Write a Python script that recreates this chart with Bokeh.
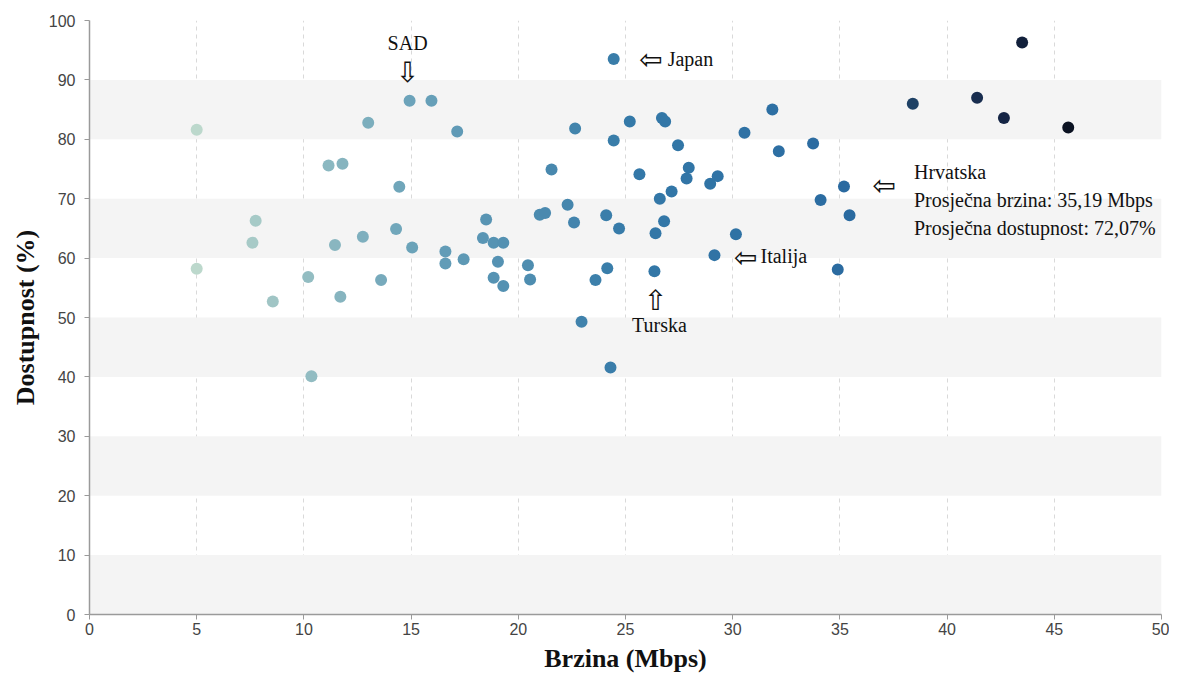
import numpy as np
from bokeh.plotting import figure
from bokeh.models import Range1d, BoxAnnotation, ColumnDataSource, FixedTicker
from bokeh.transform import linear_cmap
from bokeh.core.properties import value
from bokeh.embed import file_html
from bokeh.resources import INLINE

# ---- data ----
speed = [5.0, 5.0, 7.75, 7.6, 8.55, 10.2, 10.35, 11.15, 11.8, 11.45, 11.7, 12.75, 13.0,
         13.6, 14.3, 14.45, 14.93, 15.05, 15.95, 16.6, 16.6, 17.15, 17.45, 18.35, 18.5,
         18.85, 19.3, 19.05, 18.85, 19.3, 20.45, 20.55, 21.0, 21.25, 21.55, 22.3, 22.6,
         22.65, 22.95, 23.6, 24.1, 24.15, 24.3, 24.45, 24.45, 24.7, 25.2, 25.65, 26.35,
         26.4, 26.6, 26.7, 26.85, 26.8, 27.15, 27.45, 27.85, 27.95, 28.95, 29.3, 29.15,
         30.15, 30.55, 31.85, 32.15, 33.75, 34.1, 35.19, 35.45, 34.9, 38.4, 41.4, 42.65,
         43.5, 45.65]
availability = [81.6, 58.2, 66.3, 62.6, 52.7, 56.8, 40.1, 75.6, 75.9, 62.2, 53.5, 63.6, 82.8,
                56.3, 64.9, 72.0, 86.5, 61.8, 86.5, 61.1, 59.1, 81.3, 59.8, 63.4, 66.5,
                62.6, 62.6, 59.4, 56.7, 55.3, 58.8, 56.4, 67.3, 67.6, 74.9, 69.0, 66.0,
                81.8, 49.3, 56.3, 67.2, 58.3, 41.6, 79.8, 93.5, 65.0, 83.0, 74.1, 57.8,
                64.2, 70.0, 83.6, 83.0, 66.2, 71.2, 79.0, 73.4, 75.2, 72.5, 73.8, 60.5,
                64.0, 81.1, 85.0, 78.0, 79.3, 69.8, 72.07, 67.2, 58.1, 86.0, 87.0, 83.6,
                96.3, 82.0]

# labelled countries (speed, availability)
sad = (14.93, 86.5)
japan = (24.45, 93.5)
turska = (26.35, 57.8)
italija = (29.15, 60.5)
hrvatska = (35.19, 72.07)

x_ticks = [0, 5, 10, 15, 20, 25, 30, 35, 40, 45, 50]
y_ticks = [0, 10, 20, 30, 40, 50, 60, 70, 80, 90, 100]

# ---- colour palette (light sage -> blue -> navy) ----
anchors = [(0.00, "#bcd8cc"), (0.25, "#6aa2b9"), (0.50, "#3479a8"),
           (0.75, "#2a6aa0"), (0.83, "#1d3d60"), (0.92, "#16284a"), (1.00, "#0b1222")]
def hex2rgb(h):
    return [int(h[i:i + 2], 16) for i in (1, 3, 5)]
pos = [a[0] for a in anchors]
rgb = np.array([hex2rgb(a[1]) for a in anchors], dtype=float)
t = np.linspace(0, 1, 256)
palette = ["#%02x%02x%02x" % tuple(int(round(np.interp(tt, pos, rgb[:, k]))) for k in range(3))
           for tt in t]

source = ColumnDataSource(dict(x=speed, y=availability))

p = figure(width=1169, height=676, output_backend="svg", toolbar_location=None,
           x_range=Range1d(0, 50), y_range=Range1d(0, 100),
           min_border_left=89, min_border_right=8, min_border_top=20, min_border_bottom=62)
p.outline_line_color = None
p.background_fill_color = "white"
p.border_fill_color = "white"

# alternating bands
for lo in y_ticks[0:-1:2]:
    p.add_layout(BoxAnnotation(bottom=lo, top=lo + 10, fill_color="#f4f4f4",
                               fill_alpha=1.0, line_color=None, level="underlay"))

p.xgrid.ticker = FixedTicker(ticks=x_ticks)
p.xgrid.grid_line_color = "#d9d9d9"
p.xgrid.grid_line_dash = "4 4"
p.ygrid.grid_line_color = None

for ax in (p.xaxis[0], p.yaxis[0]):
    ax.axis_line_color = "#9a9a9a"
    ax.axis_line_width = 1.5
    ax.major_tick_line_color = "#9a9a9a"
    ax.major_tick_out = 5
    ax.major_tick_in = 0
    ax.minor_tick_line_color = None
    ax.major_label_text_font = "Liberation Sans"
    ax.major_label_text_font_size = "16px"
    ax.major_label_text_color = "#444444"
    ax.axis_label_text_font = "Liberation Serif"
    ax.axis_label_text_font_style = "bold"
    ax.axis_label_text_font_size = "26px"
    ax.axis_label_text_color = "#111111"
    ax.axis_label_text_line_height = 1.0

p.xaxis.ticker = FixedTicker(ticks=x_ticks)
p.yaxis.ticker = FixedTicker(ticks=y_ticks)
p.xaxis.axis_label = "Brzina (Mbps)"
p.yaxis.axis_label = "Dostupnost (%)"
p.xaxis.major_label_standoff = 3
p.yaxis.major_label_standoff = 9
p.xaxis.axis_label_standoff = 6
p.yaxis.axis_label_standoff = 6

p.scatter("x", "y", source=source, size=12, line_color=None,
          fill_color=linear_cmap("x", palette, low=5.0, high=45.65))

serif = value("Liberation Serif")
arrow_font = value("DejaVu Sans")
txt = dict(text_font=serif, text_font_size="20px", text_color="#111111")
arr = dict(text_font=arrow_font, text_font_size="28px", text_color="#111111")

# SAD
p.text(x=[sad[0]], y=[sad[1]], text=["SAD"], x_offset=-2, y_offset=-58,
       text_align="center", text_baseline="middle", **txt)
p.text(x=[sad[0]], y=[sad[1]], text=["\u21e9"], x_offset=-2, y_offset=-28,
       text_align="center", text_baseline="middle", **arr)
# Japan
p.text(x=[japan[0]], y=[japan[1]], text=["\u21e6"], x_offset=37, y_offset=0,
       text_align="center", text_baseline="middle", **arr)
p.text(x=[japan[0]], y=[japan[1]], text=["Japan"], x_offset=54, y_offset=0,
       text_align="left", text_baseline="middle", **txt)
# Italija
p.text(x=[italija[0]], y=[italija[1]], text=["\u21e6"], x_offset=31, y_offset=2,
       text_align="center", text_baseline="middle", **arr)
p.text(x=[italija[0]], y=[italija[1]], text=["Italija"], x_offset=46, y_offset=1,
       text_align="left", text_baseline="middle", **txt)
# Turska
p.text(x=[turska[0]], y=[turska[1]], text=["\u21e7"], x_offset=1, y_offset=29,
       text_align="center", text_baseline="middle", **arr)
p.text(x=[turska[0]], y=[turska[1]], text=["Turska"], x_offset=5, y_offset=54,
       text_align="center", text_baseline="middle", **txt)
# Hrvatska
hr_lines = ["Hrvatska",
            "Prosječna brzina: " + f"{hrvatska[0]:.2f}".replace(".", ",") + " Mbps",
            "Prosječna dostupnost: " + f"{hrvatska[1]:.2f}".replace(".", ",") + "%"]
p.text(x=[hrvatska[0]], y=[hrvatska[1]], text=["\u21e6"], x_offset=40, y_offset=-1,
       text_align="center", text_baseline="middle", **arr)
for i, line in enumerate(hr_lines):
    p.text(x=[hrvatska[0]], y=[hrvatska[1]], text=[line], x_offset=70, y_offset=-14 + 28 * i,
           text_align="left", text_baseline="middle", **txt)

open("out.html", "w").write(file_html(p, INLINE))
